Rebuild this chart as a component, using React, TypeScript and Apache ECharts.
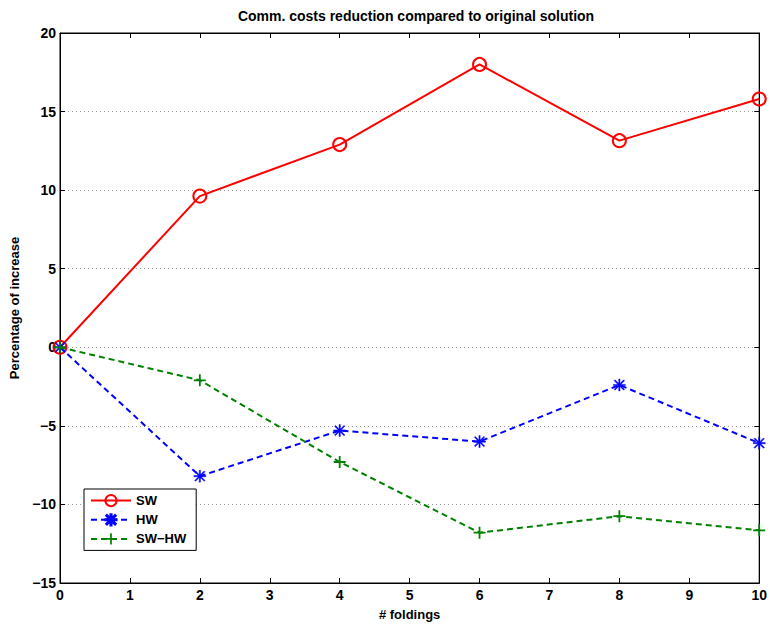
import React, { useEffect, useRef } from "react";
import * as echarts from "echarts";

const foldings = [0, 2, 4, 6, 8, 10];
const swValues = [0, 9.62, 12.9, 18.0, 13.15, 15.8];
const hwValues = [0, -8.2, -5.3, -6.0, -2.4, -6.1];
const swhwValues = [0, -2.1, -7.3, -11.8, -10.75, -11.65];
const seriesNames = ["SW", "HW", "SW\u2212HW"];

const ASTERISK =
  "path://M0 9 H20 V11 H0 Z M9 0 H11 V20 H9 Z M1.4 2.8 L2.8 1.4 L18.6 17.2 L17.2 18.6 Z M17.2 1.4 L18.6 2.8 L2.8 18.6 L1.4 17.2 Z";
const PLUS = "path://M8.5 0 H11.5 V8.5 H20 V11.5 H11.5 V20 H8.5 V11.5 H0 V8.5 H8.5 Z";

const FONT = "Liberation Sans, Arial, sans-serif";

export default function App() {
  const ref = useRef<HTMLDivElement>(null);
  useEffect(() => {
    const chart = echarts.init(ref.current!, null, { renderer: "svg" });
    const fmt = (v: number) => String(v).replace("-", "\u2212");
    const labelStyle = { color: "#000", fontWeight: "bold" as const, fontSize: 14, fontFamily: FONT };
    chart.setOption({
      animation: false,
      backgroundColor: "#fff",
      title: {
        text: "Comm. costs reduction compared to original solution",
        left: 411,
        textAlign: "center",
        top: 4,
        textStyle: { fontSize: 14, fontWeight: "bold", fontFamily: FONT, color: "#000" },
      },
      grid: { left: 60, right: 7, top: 33, bottom: 39, show: true, borderColor: "#000", borderWidth: 1, backgroundColor: "transparent" },
      legend: {
        left: 84,
        top: 489,
        orient: "vertical",
        backgroundColor: "#fff",
        borderColor: "#000",
        borderWidth: 1,
        borderRadius: 0,
        padding: [5, 10, 5, 6],
        itemGap: 6,
        itemWidth: 40,
        itemHeight: 14,
        textStyle: { ...labelStyle, fontSize: 13 },
        data: seriesNames,
      },
      xAxis: [
        {
          type: "value",
          min: 0,
          max: 10,
          interval: 1,
          name: "# foldings",
          nameLocation: "middle",
          nameGap: 25,
          nameTextStyle: { ...labelStyle, fontSize: 13 },
          axisLine: { show: true, onZero: false, lineStyle: { color: "#000" } },
          axisTick: { inside: true, length: 5, lineStyle: { color: "#000" } },
          axisLabel: { ...labelStyle, margin: 5 },
          splitLine: { show: false },
        },
        {
          type: "value",
          position: "top",
          min: 0,
          max: 10,
          interval: 1,
          axisLine: { show: true, onZero: false, lineStyle: { color: "#000" } },
          axisTick: { inside: true, length: 5, lineStyle: { color: "#000" } },
          axisLabel: { show: false },
          splitLine: { show: false },
        },
      ],
      yAxis: [
        {
          type: "value",
          min: -15,
          max: 20,
          interval: 5,
          name: "Percentage of increase",
          nameLocation: "middle",
          nameGap: 33,
          nameTextStyle: { ...labelStyle, fontSize: 13 },
          axisLine: { show: true, onZero: false, lineStyle: { color: "#000" } },
          axisTick: { inside: true, length: 5, lineStyle: { color: "#000" } },
          axisLabel: { ...labelStyle, margin: 4, formatter: fmt },
          splitLine: { show: true, lineStyle: { color: "#999", type: [1, 3], width: 1 } },
        },
        {
          type: "value",
          position: "right",
          min: -15,
          max: 20,
          interval: 5,
          axisLine: { show: true, onZero: false, lineStyle: { color: "#000" } },
          axisTick: { inside: true, length: 5, lineStyle: { color: "#000" } },
          axisLabel: { show: false },
          splitLine: { show: false },
        },
      ],
      series: [
        {
          name: seriesNames[0],
          type: "line",
          data: foldings.map((f, i) => [f, swValues[i]]),
          symbol: "circle",
          symbolSize: 13,
          lineStyle: { color: "#ff0000", width: 2 },
          itemStyle: { color: "rgba(255,255,255,0)", borderColor: "#ff0000", borderWidth: 2 },
          z: 2,
        },
        {
          name: seriesNames[1],
          type: "line",
          data: foldings.map((f, i) => [f, hwValues[i]]),
          symbol: ASTERISK,
          symbolSize: 12,
          lineStyle: { color: "#0000ff", width: 2, type: [6, 4] },
          itemStyle: { color: "#0000ff", borderColor: "#0000ff", borderWidth: 0.5 },
          z: 3,
        },
        {
          name: seriesNames[2],
          type: "line",
          data: foldings.map((f, i) => [f, swhwValues[i]]),
          symbol: PLUS,
          symbolSize: 12,
          lineStyle: { color: "#008000", width: 2, type: [6, 4] },
          itemStyle: { color: "#008000", borderWidth: 0 },
          z: 4,
        },
      ],
    });
    return () => chart.dispose();
  }, []);
  return <div ref={ref} style={{ width: 770, height: 626, position: "absolute", left: 0, top: 0 }} />;
}
